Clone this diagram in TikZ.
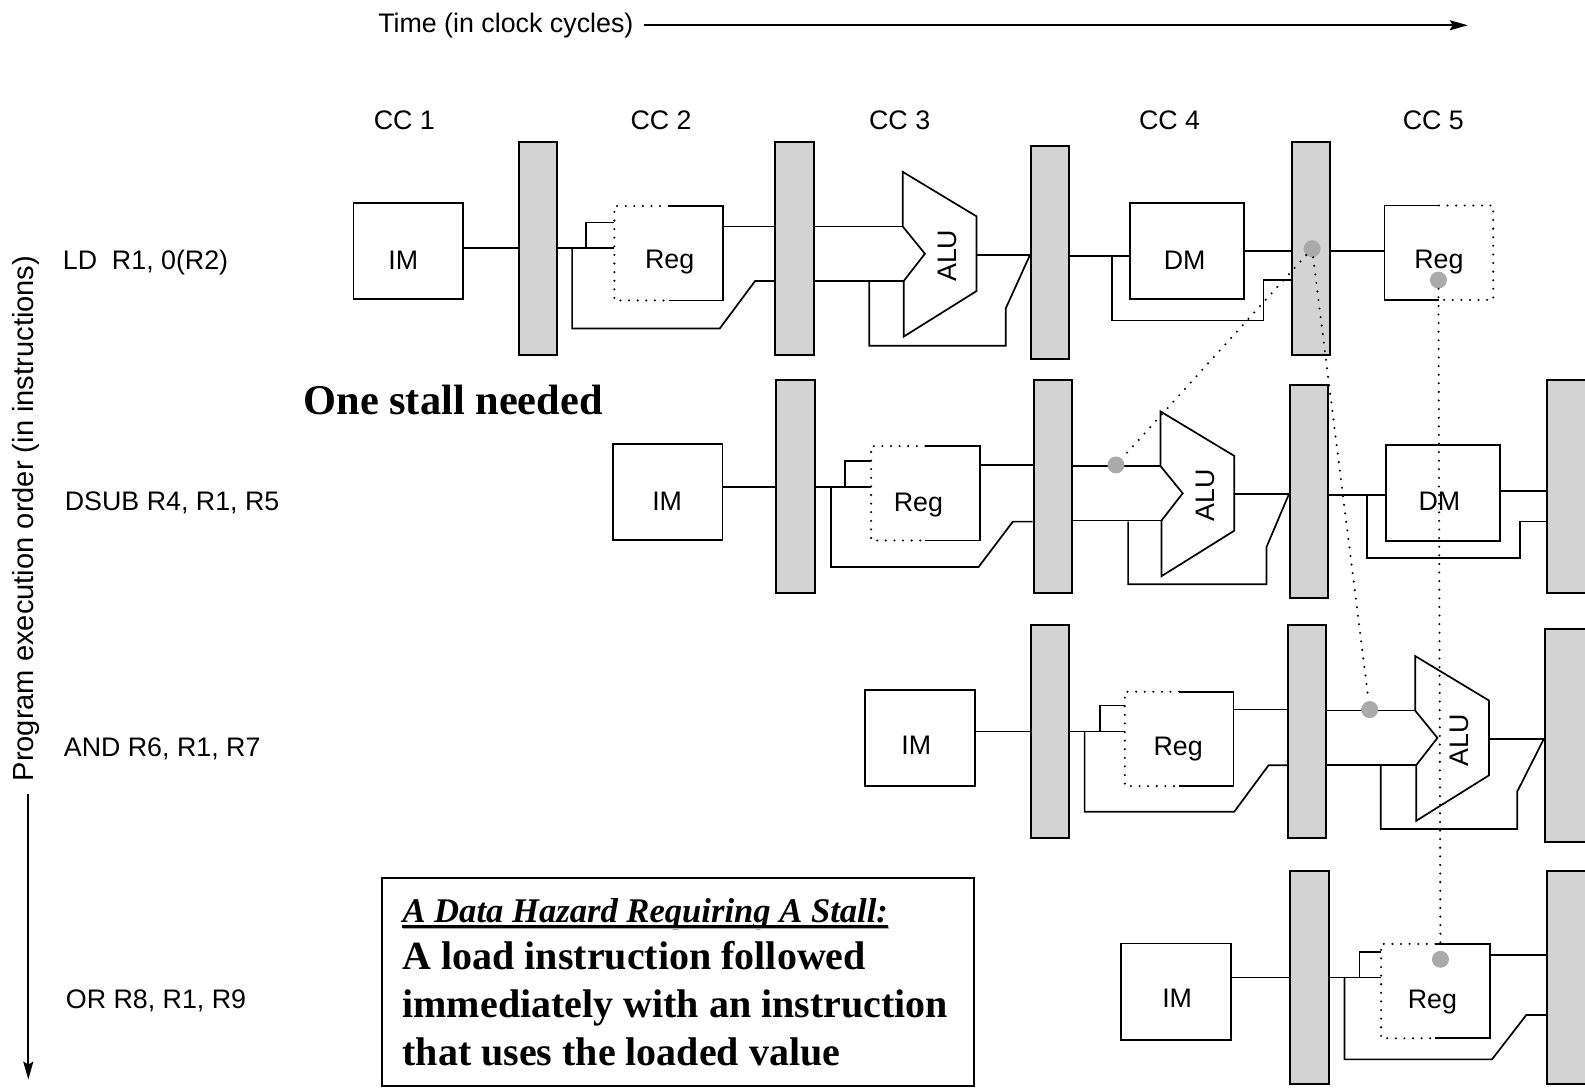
\documentclass[tikz,border=0pt]{standalone}
\usepackage{fontspec}
\setmainfont{Liberation Sans}
\newfontfamily\notefont{Liberation Serif}
\usetikzlibrary{arrows.meta, positioning, calc}
\definecolor{latchGray}{RGB}{211,211,211}
\definecolor{dotGray}{RGB}{170,170,170}
\tikzset{
  wire/.style={line width=1.7pt},
  axisline/.style={line width=1.7pt, -{Stealth[length=18pt, width=10pt, inset=3pt]}},
  forward/.style={line width=2.3pt, line cap=round, dash pattern=on 0pt off 8.6pt},
  latchbar/.style={draw, line width=2pt, fill=latchGray, minimum width=38.4pt, minimum height=213.3pt, inner sep=0},
  latchcut/.style={latchbar, minimum width=44pt},
  imbox/.style={draw, line width=1.7pt, minimum width=109.7pt, minimum height=96pt, inner sep=0},
  dmbox/.style={imbox, minimum width=114pt},
  regbox/.style={minimum width=108.2pt, minimum height=94pt, inner sep=0},
  pipetext/.style={font=\fontsize{26.8}{32}\selectfont, inner sep=0},
  rowtext/.style={pipetext, anchor=west},
  fwddot/.style={circle, fill=dotGray, minimum size=17pt, inner sep=0},
  alu/.pic={
    \draw[wire, line join=miter, fill=white] (0,-54) -- (73,-10) -- (73,64) -- (1,109) -- (1,54) -- (22,27) -- (0,0) -- cycle;
    \coordinate (-in1) at (0,0);
    \coordinate (-in2) at (1,54);
    \coordinate (-out) at (73,28);
    \node[pipetext, rotate=90] (-name) at (44,29) {ALU};
  }
}
\begin{document}
\begin{tikzpicture}[x=1.0108pt, y=-1.0108pt]
  \clip (0,0) rectangle (1568,1075.4);
  \fill[white] (0,0) rectangle (1568,1075.4);

  \node[pipetext, anchor=west] (timelabel) at (374,25) {Time (in clock cycles)};
  \coordinate (timeend) at (1452,25);
  \draw[axisline] ([xshift=10pt]timelabel.east |- timeend) -- (timeend);
  \node[pipetext, rotate=90, font=\fontsize{29.1}{34}\selectfont, inner sep=12pt] (orderlabel) at (26,513) {Program execution order (in instructions)};
  \coordinate (orderend) at (28,1068);
  \draw[axisline] (orderlabel.west -| orderend) -- (orderend);

  \node[pipetext] (cc1) at (400,119) {CC 1};
  \node[pipetext] (cc2) at (654,119) {CC 2};
  \node[pipetext] (cc3) at (890,119) {CC 3};
  \node[pipetext] (cc4) at (1157,119) {CC 4};
  \node[pipetext] (cc5) at (1418,119) {CC 5};

  \node[rowtext] (rowA) at (62,260) {LD~~R1, 0(R2)};
  \node[rowtext] (rowB) at (64,497) {DSUB R4, R1, R5};
  \node[rowtext] (rowC) at (63,741) {AND R6, R1, R7};
  \node[rowtext] (rowD) at (65,990) {OR R8, R1, R9};

  \node[latchbar] (latchA1) at (532,245.5) {};
  \node[latchbar] (latchA2) at (786,245.5) {};
  \node[latchbar] (latchA3) at (1039,249.5) {};
  \node[latchbar] (latchA4) at (1297,245.5) {};
  \node[latchbar] (latchB1) at (787,481.5) {};
  \node[latchbar] (latchB2) at (1041.5,481.5) {};
  \node[latchbar] (latchB3) at (1295,486) {};
  \node[latchcut] (latchB4) at (1552,481.5) {};
  \node[latchbar] (latchC1) at (1039,723.5) {};
  \node[latchbar] (latchC2) at (1293,723.5) {};
  \node[latchcut] (latchC3) at (1550,727.5) {};
  \node[latchbar] (latchD1) at (1295.5,967) {};
  \node[latchcut] (latchD2) at (1552,967) {};

  \node[imbox] (imA) at (404,248.5) {};
  \node[imbox] (imB) at (660.5,486.5) {};
  \node[imbox] (imC) at (910,730) {};
  \node[imbox] (imD) at (1163.5,981) {};
  \node[pipetext] (imtextA) at (399,257) {IM};
  \node[pipetext] (imtextB) at (660,496) {IM};
  \node[pipetext] (imtextC) at (906.5,737) {IM};
  \node[pipetext] (imtextD) at (1164.5,988) {IM};

  \node[regbox] (regA) at (661.5,250.5) {};
  \node[regbox] (regB) at (915.5,488) {};
  \node[regbox] (regC) at (1166.5,731) {};
  \node[regbox] (regD) at (1420,980.5) {};
  \node[regbox] (regW) at (1423.5,250) {};
  \foreach \regname in {regA, regB, regC, regD} {
    \draw[forward] (\regname.north) -- (\regname.north west) -- (\regname.south west) -- (\regname.south);
    \draw[wire] (\regname.north) -- (\regname.north east) -- (\regname.south east) -- (\regname.south);
  }
  \draw[forward] (regW.north) -- (regW.north east) -- (regW.south east) -- (regW.south);
  \draw[wire] (regW.north) -- (regW.north west) -- (regW.south west) -- (regW.south);
  \node[pipetext] (regtextA) at (662.5,259) {Reg};
  \node[pipetext] (regtextB) at (908.5,500) {Reg};
  \node[pipetext] (regtextC) at (1165.5,741) {Reg};
  \node[pipetext] (regtextD) at (1417,991) {Reg};
  \node[pipetext] (regtextW) at (1423.5,259) {Reg};

  \node[dmbox] (dmA) at (1174,248.5) {};
  \node[dmbox] (dmB) at (1427.5,488) {};
  \node[pipetext] (dmtextA) at (1172,257) {DM};
  \node[pipetext] (dmtextB) at (1424,496) {DM};

  \pic (aluA) at (893,224) {alu};
  \pic (aluB) at (1148,461) {alu};
  \pic (aluC) at (1400,703) {alu};

  \draw[wire] (imA.east |- latchA1.west) -- (latchA1.west);
  \draw[wire] (latchA1.east) -- (latchA1.east -| regA.west);
  \coordinate (upA) at (580,245.5);
  \coordinate (downA) at (566,245.5);
  \draw[wire] (upA) |- (regA.west |- 0,220);
  \draw[wire] (downA) -- (566,325) -- (712,325) -- (747,278) -- (latchA2.west |- 0,278);
  \draw[wire] (regA.east |- 0,224) -- (latchA2.west |- 0,224);
  \draw[wire] (latchA2.east |- aluA-in1) -- (aluA-in1);
  \draw[wire] (latchA2.east |- aluA-in2) -- (aluA-in2);
  \draw[wire] (aluA-out) -- (latchA3.west |- aluA-out);
  \draw[wire] (860,278) -- (860,342) -- (995,342) -- (995,305) -- (latchA3.west |- aluA-out);
  \draw[wire] (latchA3.east |- 0,253) -- (dmA.west |- 0,253);
  \draw[wire] (1100,253) -- (1100,317) -- (1250,317) -- (1250,277) -- (latchA4.west |- 0,277);
  \draw[wire] (dmA.east |- 0,248) -- (latchA4.west |- 0,248);
  \draw[wire] (latchA4.east |- 0,248) -- (regW.west |- 0,248);

  \draw[wire] (imB.east |- latchB1.west) -- (latchB1.west);
  \draw[wire] (latchB1.east) -- (latchB1.east -| regB.west);
  \coordinate (upB) at (836,481.5);
  \coordinate (downB) at (822,481.5);
  \draw[wire] (upB) |- (regB.west |- 0,456);
  \draw[wire] (downB) -- (822,561) -- (968,561) -- (1002,516) -- (latchB2.west |- 0,516);
  \draw[wire] (regB.east |- 0,460) -- (latchB2.west |- 0,460);
  \draw[wire] (latchB2.east |- aluB-in1) -- (aluB-in1);
  \draw[wire] (latchB2.east |- aluB-in2) -- (aluB-in2);
  \draw[wire] (aluB-out) -- (latchB3.west |- aluB-out);
  \draw[wire] (1116,516) -- (1116,578) -- (1253,578) -- (1253,541) -- (latchB3.west |- aluB-out);
  \draw[wire] (latchB3.east |- 0,490) -- (dmB.west |- 0,490);
  \draw[wire] (1352,490) -- (1352,552) -- (1504,552) -- (1504,516) -- (latchB4.west |- 0,516);
  \draw[wire] (dmB.east |- 0,486) -- (latchB4.west |- 0,486);

  \draw[wire] (imC.east |- latchC1.west) -- (latchC1.west);
  \draw[wire] (latchC1.east) -- (latchC1.east -| regC.west);
  \coordinate (upC) at (1088,723.5);
  \coordinate (downC) at (1073,723.5);
  \draw[wire] (upC) |- (regC.west |- 0,698);
  \draw[wire] (downC) -- (1073,803) -- (1221,803) -- (1255,757) -- (latchC2.west |- 0,757);
  \draw[wire] (regC.east |- 0,702) -- (latchC2.west |- 0,702);
  \draw[wire] (latchC2.east |- aluC-in1) -- (aluC-in1);
  \draw[wire] (latchC2.east |- aluC-in2) -- (aluC-in2);
  \draw[wire] (aluC-out) -- (latchC3.west |- aluC-out);
  \draw[wire] (1366,757) -- (1366,820) -- (1501,820) -- (1501,783) -- (latchC3.west |- aluC-out);

  \draw[wire] (imD.east |- latchD1.west) -- (latchD1.west);
  \draw[wire] (latchD1.east) -- (latchD1.east -| regD.west);
  \coordinate (upD) at (1345,967);
  \coordinate (downD) at (1330,967);
  \draw[wire] (upD) |- (regD.west |- 0,942);
  \draw[wire] (downD) -- (1330,1048) -- (1476,1048) -- (1510,1004) -- (latchD2.west |- 0,1004);
  \draw[wire] (regD.east |- 0,945) -- (latchD2.west |- 0,945);

  \node[fwddot] (loadA) at (1298,246) {};
  \node[fwddot] (writeA) at (1423,277) {};
  \node[fwddot] (useB) at (1104,460) {};
  \node[fwddot] (useC) at (1355,702) {};
  \node[fwddot] (readD) at (1425,949) {};
  \draw[forward] (loadA) -- (useB);
  \draw[forward] (loadA) -- (useC);
  \draw[forward] (writeA) -- (readD);

  \node[anchor=west, inner sep=0, font=\notefont\bfseries\fontsize{42.4}{48}\selectfont] (stallnote) at (300,396) {One stall needed};

  \node[draw, line width=2pt, minimum width=592pt, minimum height=208pt, inner sep=0] (notebox) at (671,971) {};
  \node[anchor=west, inner sep=0, font=\notefont\bfseries\itshape\fontsize{34.6}{40}\selectfont] (hazardtitle) at (398,904) {A Data Hazard Requiring A Stall:};
  \draw[dotGray, line width=2.5pt] ([xshift=1pt, yshift=-5.5pt]hazardtitle.base west) -- ([xshift=1pt, yshift=-5.5pt]hazardtitle.base east);
  \draw[line width=2.5pt] ([yshift=-4.5pt]hazardtitle.base west) -- ([yshift=-4.5pt]hazardtitle.base east);
  \node[anchor=west, inner sep=0, align=left, font=\notefont\bfseries\fontsize{40}{48}\selectfont] (hazardtext) at (398,993) {A load instruction followed\\immediately with an instruction\\that uses the loaded value};
\end{tikzpicture}
\end{document}
